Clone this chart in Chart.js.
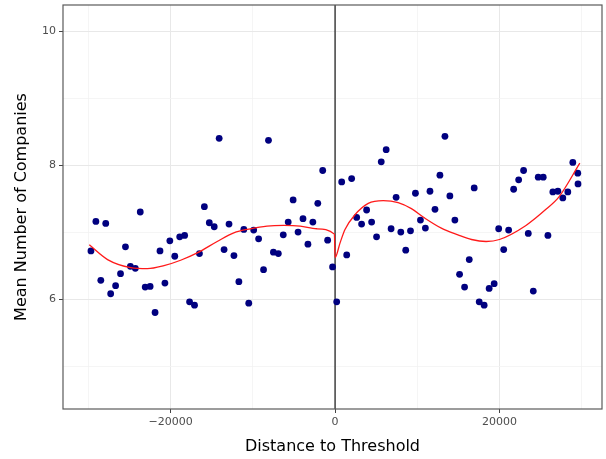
<!DOCTYPE html>
<html>
<head>
<meta charset="utf-8">
<script src="https://cdn.jsdelivr.net/npm/chart.js@4.4.0/dist/chart.umd.min.js"></script>
<style>
  html, body { margin: 0; padding: 0; background: #ffffff; }
  #wrap { width: 606px; height: 459px; }
</style>
</head>
<body>
<div id="wrap"><canvas id="c" width="606" height="459"></canvas></div>
<script>
// Binned means: distance to threshold (x) and mean number of companies (y)
const binX = [
  -29700, -29100, -28500, -27900, -27300, -26700, -26100, -25500, -24900, -24300,
  -23700, -23100, -22500, -21900, -21300, -20700, -20100, -19500, -18900, -18300,
  -17700, -17100, -16500, -15900, -15300, -14700, -14100, -13500, -12900, -12300,
  -11700, -11100, -10500, -9900, -9300, -8700, -8100, -7500, -6900, -6300,
  -5700, -5100, -4500, -3900, -3300, -2700, -2100, -1500, -900, -300,
  200, 810, 1420, 2020, 2630, 3230, 3840, 4450, 5050, 5620,
  6220, 6820, 7430, 8000, 8600, 9180, 9780, 10390, 10990, 11550,
  12160, 12760, 13370, 13970, 14580, 15150, 15760, 16330, 16930, 17540,
  18140, 18750, 19360, 19910, 20520, 21120, 21730, 22340, 22940, 23510,
  24120, 24720, 25330, 25900, 26500, 27110, 27710, 28320, 28930, 29530, 29560
];
const binMean = [
  6.72, 7.16, 6.28, 7.13, 6.08, 6.20, 6.38, 6.78, 6.49, 6.46,
  7.30, 6.18, 6.19, 5.80, 6.72, 6.24, 6.87, 6.64, 6.93, 6.95,
  5.96, 5.91, 6.68, 7.38, 7.14, 7.08, 8.40, 6.74, 7.12, 6.65,
  6.26, 7.04, 5.94, 7.03, 6.90, 6.44, 8.37, 6.70, 6.68, 6.96,
  7.15, 7.48, 7.00, 7.20, 6.82, 7.15, 7.43, 7.92, 6.88, 6.48,
  5.96, 7.75, 6.66, 7.80, 7.22, 7.12, 7.33, 7.15, 6.93, 8.05,
  8.23, 7.05, 7.52, 7.00, 6.73, 7.02, 7.58, 7.18, 7.06, 7.61,
  7.34, 7.85, 8.43, 7.54, 7.18, 6.37, 6.18, 6.59, 7.66, 5.96,
  5.91, 6.16, 6.23, 7.05, 6.74, 7.03, 7.64, 7.78, 7.92, 6.98,
  6.12, 7.82, 7.82, 6.95, 7.60, 7.61, 7.51, 7.60, 8.04, 7.88, 7.72
];
// Fitted curve (left side, then right side)
const fitX = [
  -29900, -27680, -24850, -22820, -20810, -18790, -16770, -14340, -12320, -10300,
  -8280, -6260, -4240, -2220, -80,
  0, 610, 1210, 2420, 4040, 5860, 7680, 9290, 10910, 12930,
  14950, 16600, 18380, 20000, 23230, 25660, 27270, 29780
];
const fitY = [
  6.81, 6.59, 6.47, 6.455, 6.50, 6.58, 6.69, 6.86, 6.99, 7.05,
  7.09, 7.10, 7.09, 7.05, 6.97,
  6.62, 6.84, 7.04, 7.26, 7.43, 7.47, 7.44, 7.35, 7.21, 7.06,
  6.96, 6.89, 6.86, 6.89, 7.10, 7.34, 7.53, 8.03
];
const yTicks = [6, 8, 10];
const xTicks = [-20000, 0, 20000];
const yRange = [4.36, 10.39];
const xRange = [-33100, 32480];
const threshold = 0;

const pts = binX.map((x, i) => ({ x: x, y: binMean[i] }));
const fit = fitX.map((x, i) => ({ x: x, y: fitY[i] }));
const vline = [{ x: threshold, y: yRange[0] }, { x: threshold, y: yRange[1] }];

const fmt = v => (v < 0 ? '\u2212' + Math.abs(v) : String(v));
const isMajor = (list, v) => list.some(t => Math.abs(t - v) < 1e-6);

const frame = {
  id: 'frame',
  afterDraw(chart) {
    const a = chart.chartArea, ctx = chart.ctx;
    ctx.save();
    ctx.strokeStyle = '#5a5a5a';
    ctx.lineWidth = 1.2;
    ctx.strokeRect(a.left, a.top, a.right - a.left, a.bottom - a.top);
    ctx.restore();
  }
};

Chart.defaults.font.family = '"DejaVu Sans", sans-serif';

new Chart(document.getElementById('c'), {
  type: 'scatter',
  data: {
    datasets: [
      {
        label: 'fit', data: fit, showLine: true, borderColor: '#ff1a1a',
        borderWidth: 1.3, pointRadius: 0, cubicInterpolationMode: 'monotone',
        order: 0
      },
      {
        label: 'means', data: pts, backgroundColor: '#00007f', borderColor: '#00007f',
        borderWidth: 0, pointRadius: 3.4, order: 1
      },
      {
        label: 'threshold', data: vline, showLine: true, borderColor: '#000000',
        borderWidth: 1.1, pointRadius: 0, order: 2
      }
    ]
  },
  options: {
    responsive: false,
    animation: false,
    devicePixelRatio: 1,
    layout: { padding: { left: 0, right: 0, top: 5, bottom: 0 } },
    plugins: { legend: { display: false }, tooltip: { enabled: false } },
    scales: {
      x: {
        type: 'linear', min: xRange[0], max: xRange[1],
        afterFit(s) { s.height = 50; s.paddingLeft = 0; s.paddingRight = 0; },
        afterBuildTicks(s) { s.ticks = [-30000, -20000, -10000, 0, 10000, 20000, 30000].map(v => ({ value: v })); },
        ticks: {
          callback: v => isMajor(xTicks, v) ? fmt(v) : '',
          color: '#4d4d4d', font: { size: 11 }, padding: 3, maxRotation: 0, autoSkip: false
        },
        grid: {
          color: c => isMajor(xTicks, c.tick.value) ? '#e8e8e8' : '#f2f2f2',
          lineWidth: c => isMajor(xTicks, c.tick.value) ? 1 : 0.8,
          tickColor: c => isMajor(xTicks, c.tick.value) ? '#444444' : 'rgba(0,0,0,0)',
          tickLength: 4, tickWidth: 1
        },
        border: { display: false },
        title: { display: true, text: 'Distance to Threshold', color: '#000000', font: { size: 16 }, padding: { top: 0, bottom: 3 } }
      },
      y: {
        type: 'linear', min: yRange[0], max: yRange[1],
        afterFit(s) { s.width = 63; s.paddingTop = 0; s.paddingBottom = 0; },
        afterBuildTicks(s) { s.ticks = [5, 6, 7, 8, 9, 10].map(v => ({ value: v })); },
        ticks: {
          callback: v => isMajor(yTicks, v) ? fmt(v) : '',
          color: '#4d4d4d', font: { size: 11 }, padding: 3, autoSkip: false
        },
        grid: {
          color: c => isMajor(yTicks, c.tick.value) ? '#e8e8e8' : '#f2f2f2',
          lineWidth: c => isMajor(yTicks, c.tick.value) ? 1 : 0.8,
          tickColor: c => isMajor(yTicks, c.tick.value) ? '#444444' : 'rgba(0,0,0,0)',
          tickLength: 4, tickWidth: 1
        },
        border: { display: false },
        title: { display: true, text: 'Mean Number of Companies', color: '#000000', font: { size: 16 }, padding: { top: 12, bottom: 0 } }
      }
    }
  },
  plugins: [frame]
});
</script>
</body>
</html>
